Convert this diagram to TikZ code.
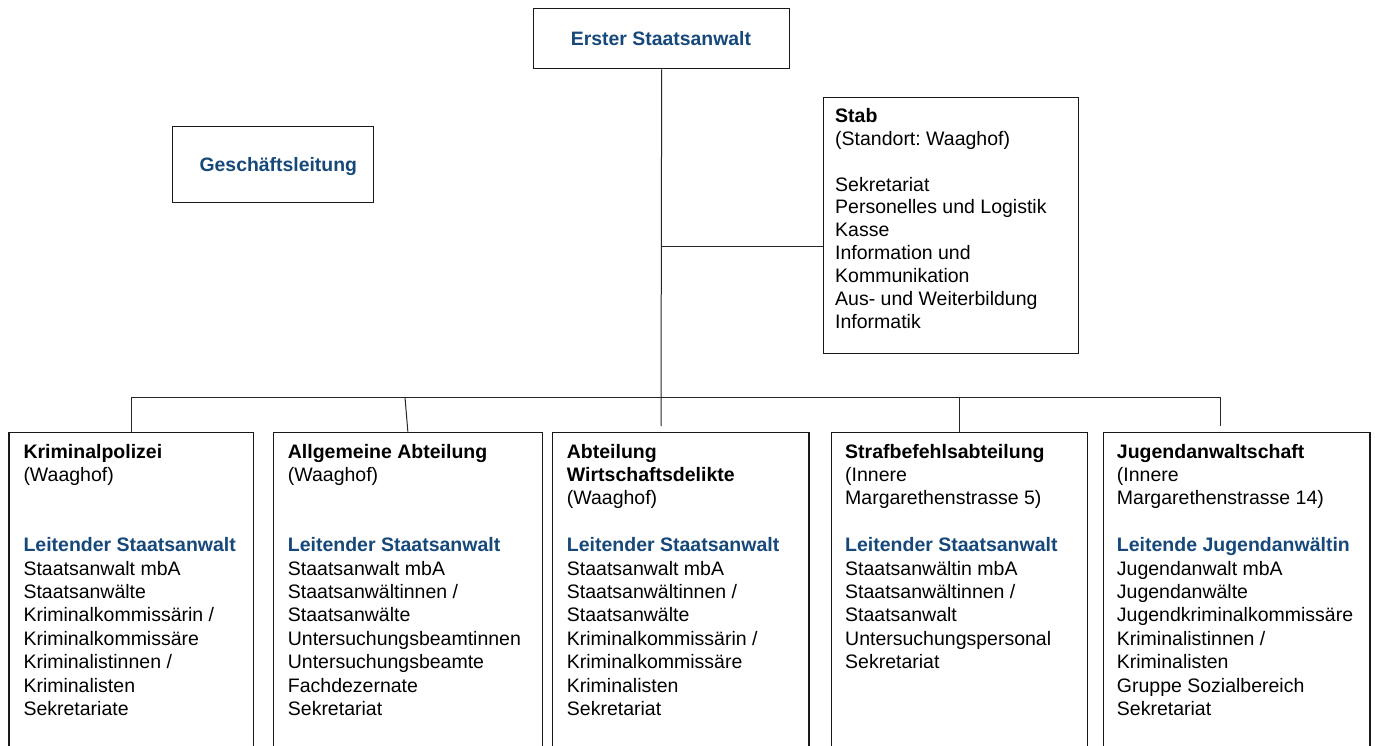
\documentclass[tikz,border=0pt]{standalone}
\usepackage{fontspec}
\setmainfont{Liberation Sans}
\frenchspacing
\definecolor{hdblue}{RGB}{22,72,122}
\newcommand\hd[1]{\hbox{\bfseries #1}}
\newcommand\bl[1]{\hbox{\bfseries\color{hdblue}#1}}
\newcommand\tl[1]{\hbox{#1}}
\newcommand\stackA[1]{\vtop{\baselineskip=23.4pt\lineskiplimit=-50pt #1}}
\newcommand\stackB[1]{\vtop{\baselineskip=22.9pt\lineskiplimit=-50pt #1}}
\tikzset{
 box/.style={draw=black!90, line width=1.3pt, inner sep=0pt, anchor=north west},
 conn/.style={draw=black!85, line width=1pt},
 txt/.style={anchor=base west, inner sep=0pt, font=\fontsize{19.5}{23.4}\selectfont},
 ctxt/.style={anchor=base, inner sep=0pt, font=\fontsize{19.4}{23.4}\selectfont\bfseries, text=hdblue},
}
\begin{document}
\begin{tikzpicture}[x=1pt,y=-1pt]
\useasboundingbox (0,0) rectangle (1375,745);
\clip (0,0) rectangle (1375,745);
\fill[white] (0,0) rectangle (1375,745);

% boxes
\node[box, minimum width=256pt, minimum height=60pt] (es) at (533,8) {};
\node[ctxt] (est) at (661,45) {Erster Staatsanwalt};

\node[box, minimum width=201pt, minimum height=76pt] (gl) at (172,126) {};
\node[ctxt] (glt) at (278.3,171) {Geschäftsleitung};

\node[box, minimum width=255pt, minimum height=256pt] (stab) at (823,97) {};
\node[txt] (stabt) at (835,122.3) {\stackB{\hd{Stab}\tl{(Standort: Waaghof)}\tl{}\tl{Sekretariat}\tl{Personelles und Logistik}\tl{Kasse}\tl{Information und}\tl{Kommunikation}\tl{Aus- und Weiterbildung}\tl{Informatik}}};

\node[box, minimum width=244.7pt, minimum height=340pt] (k1) at (8.3,431.7) {};
\node[box, minimum width=269pt, minimum height=340pt] (k2) at (272.7,431.7) {};
\node[box, minimum width=256.6pt, minimum height=340pt] (k3) at (551.7,431.7) {};
\node[box, minimum width=256pt, minimum height=340pt] (k4) at (830.7,431.7) {};
\node[box, minimum width=266.6pt, minimum height=340pt] (k5) at (1102.7,431.7) {};

\node[txt] (k1t) at (23.3,458) {\stackA{\hd{Kriminalpolizei}\tl{(Waaghof)}\tl{}\tl{}\bl{Leitender Staatsanwalt}\tl{Staatsanwalt mbA}\tl{Staatsanwälte}\tl{Kriminalkommissärin /}\tl{Kriminalkommissäre}\tl{Kriminalistinnen /}\tl{Kriminalisten}\tl{Sekretariate}}};
\node[txt] (k2t) at (287.7,458) {\stackA{\hd{Allgemeine Abteilung}\tl{(Waaghof)}\tl{}\tl{}\bl{Leitender Staatsanwalt}\tl{Staatsanwalt mbA}\tl{Staatsanwältinnen /}\tl{Staatsanwälte}\tl{Untersuchungsbeamtinnen}\tl{Untersuchungsbeamte}\tl{Fachdezernate}\tl{Sekretariat}}};
\node[txt] (k3t) at (566.7,458) {\stackA{\hd{Abteilung}\hd{Wirtschaftsdelikte}\tl{(Waaghof)}\tl{}\bl{Leitender Staatsanwalt}\tl{Staatsanwalt mbA}\tl{Staatsanwältinnen /}\tl{Staatsanwälte}\tl{Kriminalkommissärin /}\tl{Kriminalkommissäre}\tl{Kriminalisten}\tl{Sekretariat}}};
\node[txt] (k4t) at (845,458) {\stackA{\hd{Strafbefehlsabteilung}\tl{(Innere}\tl{Margarethenstrasse 5)}\tl{}\bl{Leitender Staatsanwalt}\tl{Staatsanwältin mbA}\tl{Staatsanwältinnen /}\tl{Staatsanwalt}\tl{Untersuchungspersonal}\tl{Sekretariat}}};
\node[txt] (k5t) at (1116.7,458) {\stackA{\hd{Jugendanwaltschaft}\tl{(Innere}\tl{Margarethenstrasse 14)}\tl{}\bl{Leitende Jugendanwältin}\tl{Jugendanwalt mbA}\tl{Jugendanwälte}\tl{Jugendkriminalkommissäre}\tl{Kriminalistinnen /}\tl{Kriminalisten}\tl{Gruppe Sozialbereich}\tl{Sekretariat}}};

% connectors
\coordinate (mainEnd) at (661,426);
\coordinate (stabJ) at (661,246);
\coordinate (busY) at (0,397.3);
\coordinate (busR) at (1220.7,397.3);
\coordinate (d2top) at (405,397.3);
\coordinate (d5end) at (1220.7,426);
\draw[conn] (es.south) -- (mainEnd);
\draw[conn] (stabJ) -- (stabJ -| stab.west);
\draw[conn] (k1.north) -- (k1.north |- busY) -- (busR) -- (d5end);
\draw[conn] (d2top) -- (k2.north);
\draw[conn] (k4.north) -- (k4.north |- busY);
\end{tikzpicture}
\end{document}
